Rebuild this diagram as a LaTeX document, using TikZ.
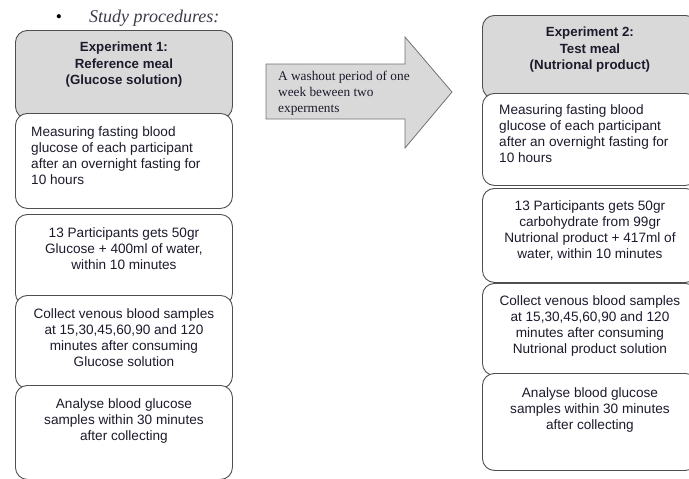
\documentclass[tikz,border=0pt]{standalone}
\usepackage{fontspec}
\setmainfont{Liberation Serif}
\setsansfont{Liberation Sans}
\usetikzlibrary{positioning}
\definecolor{Edge}{HTML}{4F4F4F}
\definecolor{Shade}{HTML}{D9D9D9}
\definecolor{Ink}{HTML}{1E1A2C}
\definecolor{Title}{HTML}{3C3C4A}
\tikzset{
  headbox/.style={draw=Edge,fill=Shade,line width=.9pt,rounded corners=12pt,anchor=north west,inner sep=0pt},
  stepbox/.style={headbox,fill=white},
  boxtext/.style={font=\sffamily\fontsize{13.6}{16}\selectfont,text=Ink,align=center,inner sep=0pt},
  lefttext/.style={boxtext,align=left},
  headtext/.style={boxtext,font=\sffamily\bfseries\fontsize{13.3}{16.5}\selectfont},
  washshape/.style={draw=Edge!80,fill=Shade,line width=.8pt},
  washtext/.style={font=\fontsize{13.3}{16}\selectfont,text=Ink,align=left,inner sep=0pt,anchor=north west}
}
\begin{document}
\begin{tikzpicture}[x=1pt,y=-1pt]
  \useasboundingbox (0,0) rectangle (689,479);
  % heading
  \node[font=\fontsize{17.5}{20}\selectfont,anchor=base,inner sep=0pt] (dot) at (59,22) {\textbullet};
  \node[font=\itshape\fontsize{18}{20}\selectfont,text=Title,anchor=base west,inner sep=0pt] (title) at (89,22) {Study procedures:};

  % experiment 1
  \node[headbox,minimum width=217pt,minimum height=88pt] (hdA) at (15,30) {};
  \node[headtext,below=12pt of hdA.north] (txA0) {Experiment 1:\\Reference meal\\(Glucose solution)};
  \node[stepbox,minimum width=217pt,minimum height=95pt] (stA1) at (15,113) {};
  \node[lefttext,below right=13pt and 16pt of stA1.north west] (txA1) {Measuring fasting blood\\glucose of each participant\\after an overnight fasting for\\10 hours};
  \node[stepbox,minimum width=217pt,minimum height=91pt] (stA2) at (15,214) {};
  \node[boxtext,below=13pt of stA2.north] (txA2) {13 Participants gets 50gr\\Glucose + 400ml of water,\\within 10 minutes};
  \node[stepbox,minimum width=217pt,minimum height=93pt] (stA3) at (15,295) {};
  \node[boxtext,below=13pt of stA3.north] (txA3) {Collect venous blood samples\\at 15,30,45,60,90 and 120\\minutes after consuming\\Glucose solution};
  \node[stepbox,minimum width=217pt,minimum height=94pt] (stA4) at (15,385) {};
  \node[boxtext,below=13pt of stA4.north] (txA4) {Analyse blood glucose\\samples within 30 minutes\\after collecting};

  % washout period
  \draw[washshape] (266,64) -- (405,64) -- (405,37) -- (452,92) -- (405,148) -- (405,119) -- (266,119) -- cycle;
  \node[washtext] (wash) at (278,71) {A washout period of one\\week beween two\\experments};

  % experiment 2
  \node[headbox,minimum width=215pt,minimum height=83pt] (hdB) at (482,15) {};
  \node[headtext,below=12pt of hdB.north] (txB0) {Experiment 2:\\Test meal\\(Nutrional product)};
  \node[stepbox,minimum width=215pt,minimum height=92pt] (stB1) at (482,93) {};
  \node[lefttext,below right=11pt and 17pt of stB1.north west] (txB1) {Measuring fasting blood\\glucose of each participant\\after an overnight fasting for\\10 hours};
  \node[stepbox,minimum width=215pt,minimum height=94pt] (stB2) at (482,188) {};
  \node[boxtext,below=12pt of stB2.north] (txB2) {13 Participants gets 50gr\\carbohydrate from 99gr\\Nutrional product + 417ml of\\water, within 10 minutes};
  \node[stepbox,minimum width=215pt,minimum height=92pt] (stB3) at (482,283) {};
  \node[boxtext,below=12pt of stB3.north] (txB3) {Collect venous blood samples\\at 15,30,45,60,90 and 120\\minutes after consuming\\Nutrional product solution};
  \node[stepbox,minimum width=215pt,minimum height=97pt] (stB4) at (482,373) {};
  \node[boxtext,below=14pt of stB4.north] (txB4) {Analyse blood glucose\\samples within 30 minutes\\after collecting};
\end{tikzpicture}
\end{document}
